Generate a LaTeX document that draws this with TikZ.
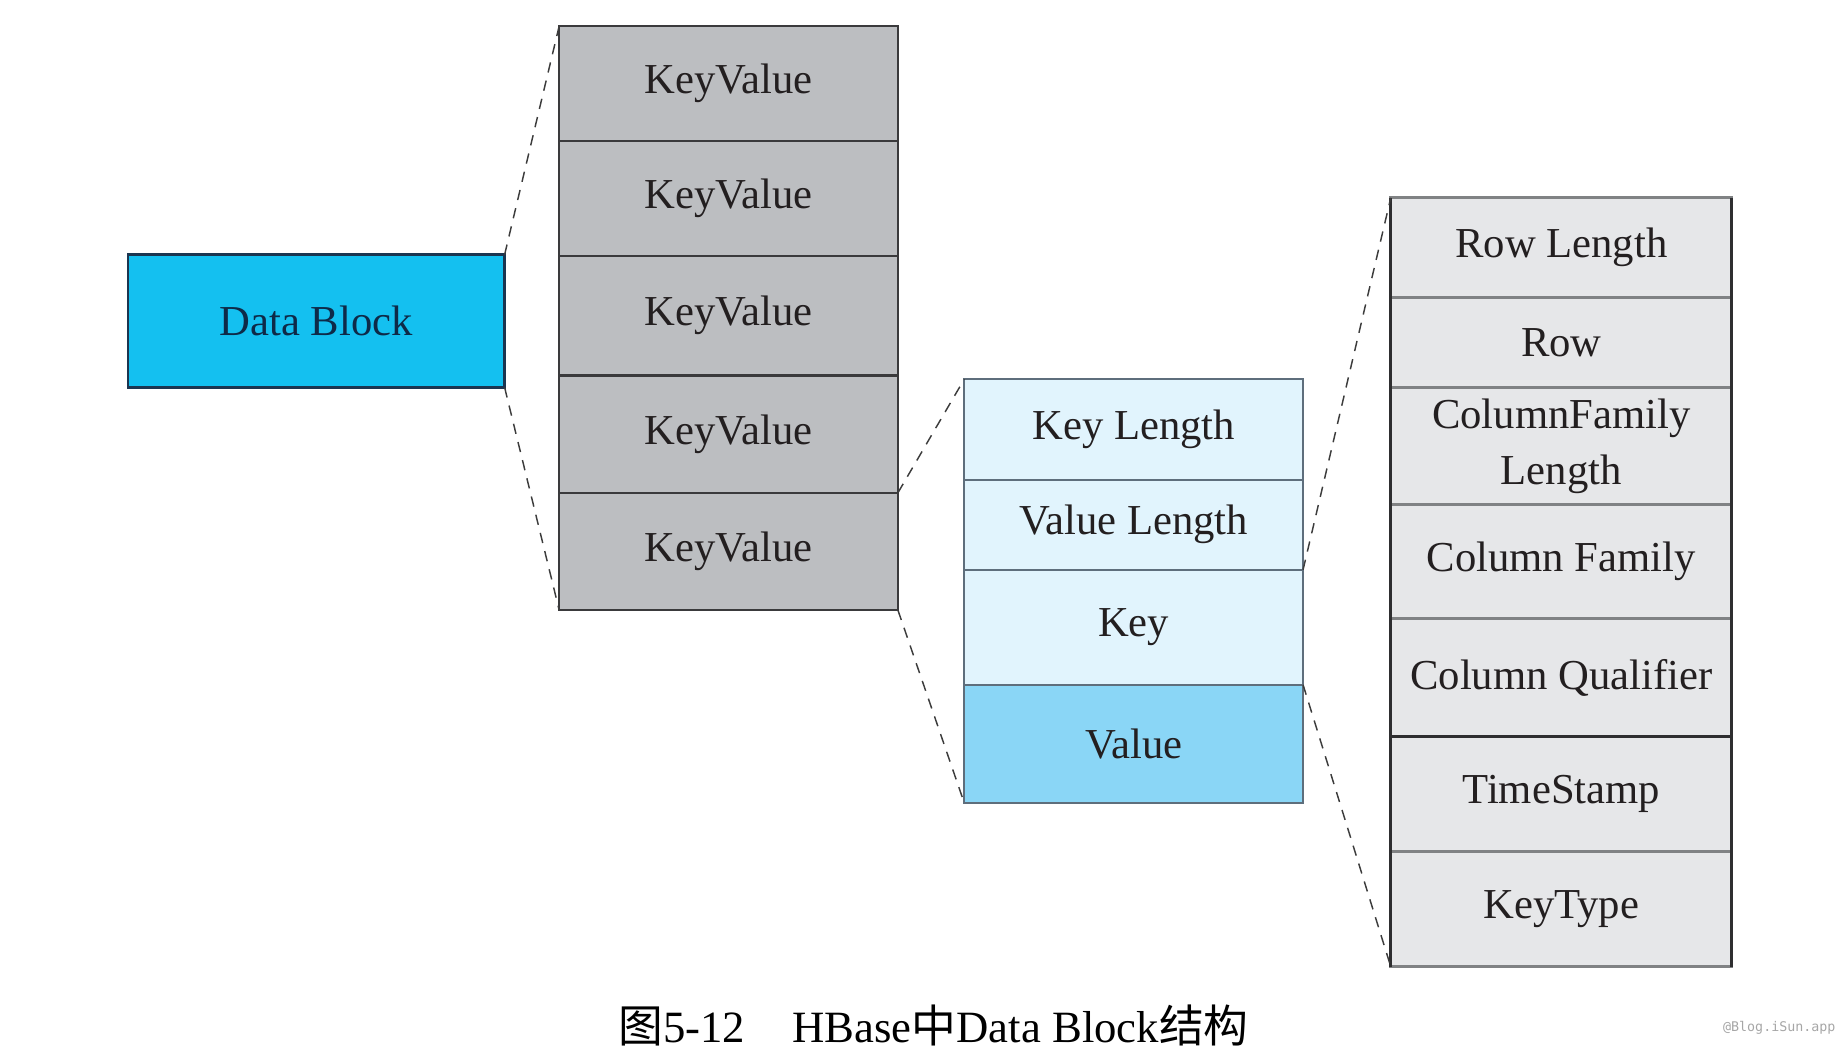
\documentclass[tikz,border=0pt]{standalone}
\usepackage{fontspec}
\setmainfont{Liberation Serif}
\newfontfamily\cjk{Noto Sans CJK SC}
\newfontfamily\wmfont{DejaVu Sans Mono}
\usetikzlibrary{positioning}
\definecolor{txtgray}{HTML}{231F20}
\definecolor{blockblue}{HTML}{14C0F0}
\definecolor{blockedge}{HTML}{1B3550}
\definecolor{blocktext}{HTML}{0E2A48}
\definecolor{kvgray}{HTML}{BCBEC1}
\definecolor{kvedge}{HTML}{3A3A3C}
\definecolor{fieldblue}{HTML}{E1F4FD}
\definecolor{valueblue}{HTML}{8AD6F6}
\definecolor{fieldedge}{HTML}{5E6E7C}
\definecolor{keygray}{HTML}{E6E7E9}
\definecolor{keyedge}{HTML}{808284}
\definecolor{keyframe}{HTML}{2E2E30}
\definecolor{zoomgray}{HTML}{3C3C3C}

\begin{document}
\begin{tikzpicture}
  [
  x=0.02cm, y=-0.02cm,
  font=\fontsize{20.5}{27}\selectfont, text=txtgray,
  cell/.style={rectangle, inner sep=0pt, outer sep=0pt, align=center},
  blocknode/.style={cell, fill=blockblue, draw=blockedge, line width=1.2pt, minimum width=6.36cm, minimum height=2.24cm, text=blocktext},
  kvnode/.style={cell, fill=kvgray, draw=kvedge, line width=1pt, minimum width=5.72cm},
  fieldnode/.style={cell, fill=fieldblue, draw=fieldedge, line width=1pt, minimum width=5.72cm},
  keynode/.style={cell, fill=keygray, draw=keyedge, line width=1.4pt, minimum width=5.76cm},
  zoomline/.style={draw=zoomgray, line width=0.7pt, dash pattern=on 5pt off 4pt},
  ]

  \useasboundingbox (0,0) rectangle (1560,886);

  \node[blocknode] (DB) at (267,271) {Data Block};

  \node[kvnode, minimum height=1.94cm] (KV1) at (615,70.5) {KeyValue};
  \node[kvnode, minimum height=1.94cm] (KV2) at (615,167.5) {KeyValue};
  \node[kvnode, minimum height=2.02cm] (KV3) at (615,266.5) {KeyValue};
  \node[kvnode, minimum height=1.98cm] (KV4) at (615,366.5) {KeyValue};
  \node[kvnode, minimum height=1.98cm] (KV5) at (615,465.5) {KeyValue};

  \node[fieldnode, minimum height=1.70cm] (KL) at (957,362.5) {Key Length};
  \node[fieldnode, minimum height=1.52cm] (VL) at (957,443) {Value Length};
  \node[fieldnode, minimum height=1.94cm] (K) at (957,529.5) {Key};
  \node[fieldnode, fill=valueblue, minimum height=2.00cm] (V) at (957,628) {Value};

  \node[keynode, minimum height=1.68cm] (RL) at (1318,209) {Row Length};
  \node[keynode, minimum height=1.52cm] (Row) at (1318,289) {Row};
  \node[keynode, minimum height=1.98cm] (CFL) at (1318,376.5) {ColumnFamily\\Length};
  \node[keynode, minimum height=1.92cm] (CF) at (1318,474) {Column Family};
  \node[keynode, minimum height=2.00cm] (CQ) at (1318,572) {Column Qualifier};
  \node[keynode, minimum height=1.94cm] (TS) at (1318,670.5) {TimeStamp};
  \node[keynode, minimum height=1.94cm] (KT) at (1318,767.5) {KeyType};
  \draw[keyframe, line width=1.4pt] (RL.north west) -- (KT.south west);
  \draw[keyframe, line width=1.4pt] (RL.north east) -- (KT.south east);
  \draw[keyframe, line width=1.4pt] (TS.north west) -- (TS.north east);

  \draw[zoomline] (DB.north east) -- (KV1.north west);
  \draw[zoomline] (DB.south east) -- (KV5.south west);
  \draw[zoomline] (KV5.north east) -- (KL.north west);
  \draw[zoomline] (KV5.south east) -- (V.south west);
  \draw[zoomline] (K.north east) -- (RL.north west);
  \draw[zoomline] (V.north east) -- (KT.south west);

  \node[font=\fontsize{21.5}{26}\selectfont, text=black] (cap) at (788,866)
    {{\cjk 图}5-12\hspace{0.8cm}HBase{\cjk 中}Data Block{\cjk 结构}};
  \node[font=\wmfont\fontsize{6.4}{8}\selectfont, text=gray!70] (wm) at (1502,868) {@Blog.iSun.app};

\end{tikzpicture}
\end{document}
